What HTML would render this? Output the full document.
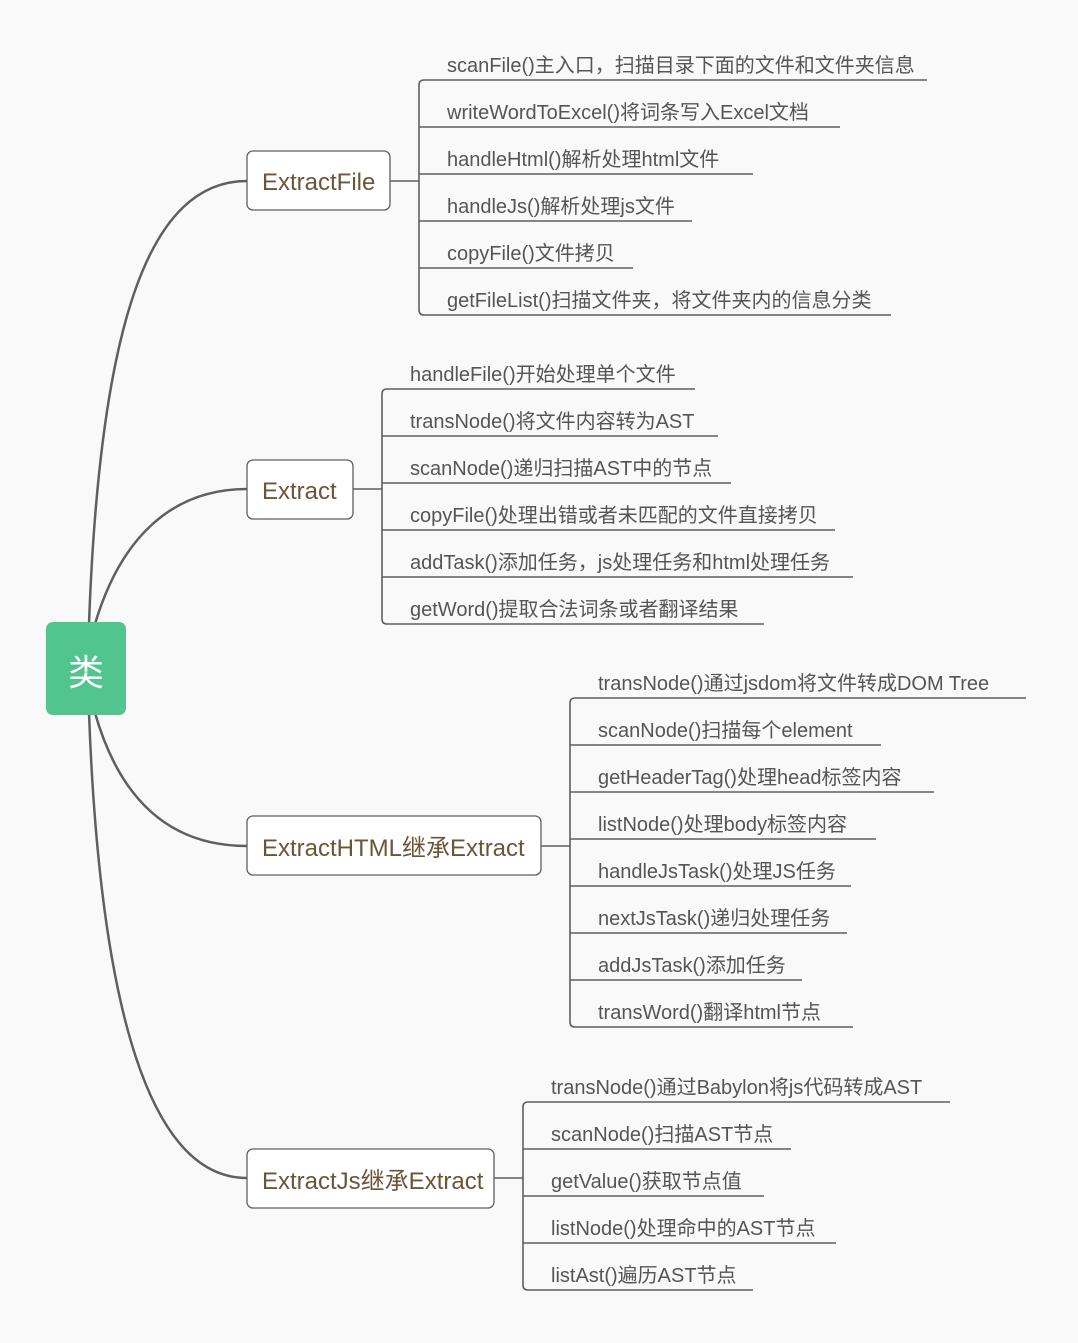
<!DOCTYPE html>
<html><head><meta charset="utf-8"><style>
html,body{margin:0;padding:0;background:#f9f9f9;}
svg{display:block;}
.l{font-family:"Liberation Sans","Noto Sans CJK SC",sans-serif;font-size:20px;fill:#555;}
.b{font-family:"Liberation Sans","Noto Sans CJK SC",sans-serif;font-size:24px;fill:#6b5538;}
</style></head><body>
<svg width="1078" height="1343" viewBox="0 0 1078 1343" xmlns="http://www.w3.org/2000/svg">
<rect width="1078" height="1343" fill="#f9f9f9"/>
<g fill="none" stroke="#5f5f5f" stroke-width="2.5">
<path d="M89 624 C 100 320, 150 181, 247 181"/>
<path d="M95 624 C 120 540, 170 489, 247 489"/>
<path d="M95 713 C 120 800, 170 846, 247 846"/>
<path d="M89 713 C 100 1010, 150 1178, 247 1178"/>
</g>
<g fill="none" stroke="#5f5f5f" stroke-width="1.6">
<path d="M390 181 H419"/>
<path d="M424 80 Q419 80 419 85 V310 Q419 315 424 315 H891"/>
<path d="M424 80 H927 M419 127 H840 M419 174 H753 M419 221 H692 M419 268 H633"/>
<path d="M353 489 H382"/>
<path d="M387 389 Q382 389 382 394 V619 Q382 624 387 624 H764"/>
<path d="M387 389 H695 M382 436 H718 M382 483 H731 M382 530 H835 M382 577 H853"/>
<path d="M541 846 H570"/>
<path d="M575 698 Q570 698 570 703 V1022 Q570 1027 575 1027 H853"/>
<path d="M575 698 H1026 M570 745 H881 M570 792 H934 M570 839 H876 M570 886 H851 M570 933 H847 M570 980 H802"/>
<path d="M494 1178 H523"/>
<path d="M528 1102 Q523 1102 523 1107 V1285 Q523 1290 528 1290 H753"/>
<path d="M528 1102 H950 M523 1149 H791 M523 1196 H764 M523 1243 H836"/>
</g>
<rect x="46" y="622" width="80" height="93" rx="7" fill="#52c48d"/>
<text x="86" y="685" text-anchor="middle" font-family="'Noto Sans CJK SC',sans-serif" font-size="36" fill="#fff">类</text>
<g fill="#fff" stroke="#5f5f5f" stroke-width="1.3">
<rect x="247" y="151" width="143" height="59" rx="6"/>
<rect x="247" y="460" width="106" height="59" rx="6"/>
<rect x="247" y="816" width="294" height="59" rx="6"/>
<rect x="247" y="1149" width="247" height="59" rx="6"/>
</g>
<text class="b" x="262" y="190">ExtractFile</text>
<text class="b" x="262" y="499">Extract</text>
<text class="b" x="262" y="856">ExtractHTML继承Extract</text>
<text class="b" x="262" y="1189">ExtractJs继承Extract</text>
<g class="l">
<text class="l" x="447" y="72">scanFile()主入口，扫描目录下面的文件和文件夹信息</text>
<text class="l" x="447" y="119">writeWordToExcel()将词条写入Excel文档</text>
<text class="l" x="447" y="166">handleHtml()解析处理html文件</text>
<text class="l" x="447" y="213">handleJs()解析处理js文件</text>
<text class="l" x="447" y="260">copyFile()文件拷贝</text>
<text class="l" x="447" y="307">getFileList()扫描文件夹，将文件夹内的信息分类</text>
<text class="l" x="410" y="381">handleFile()开始处理单个文件</text>
<text class="l" x="410" y="428">transNode()将文件内容转为AST</text>
<text class="l" x="410" y="475">scanNode()递归扫描AST中的节点</text>
<text class="l" x="410" y="522">copyFile()处理出错或者未匹配的文件直接拷贝</text>
<text class="l" x="410" y="569">addTask()添加任务，js处理任务和html处理任务</text>
<text class="l" x="410" y="616">getWord()提取合法词条或者翻译结果</text>
<text class="l" x="598" y="690">transNode()通过jsdom将文件转成DOM Tree</text>
<text class="l" x="598" y="737">scanNode()扫描每个element</text>
<text class="l" x="598" y="784">getHeaderTag()处理head标签内容</text>
<text class="l" x="598" y="831">listNode()处理body标签内容</text>
<text class="l" x="598" y="878">handleJsTask()处理JS任务</text>
<text class="l" x="598" y="925">nextJsTask()递归处理任务</text>
<text class="l" x="598" y="972">addJsTask()添加任务</text>
<text class="l" x="598" y="1019">transWord()翻译html节点</text>
<text class="l" x="551" y="1094">transNode()通过Babylon将js代码转成AST</text>
<text class="l" x="551" y="1141">scanNode()扫描AST节点</text>
<text class="l" x="551" y="1188">getValue()获取节点值</text>
<text class="l" x="551" y="1235">listNode()处理命中的AST节点</text>
<text class="l" x="551" y="1282">listAst()遍历AST节点</text>
</g>
</svg>
</body></html>
